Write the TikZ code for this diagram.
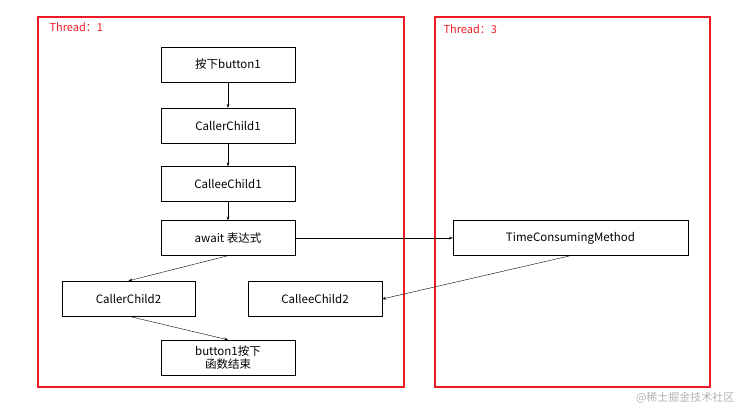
\documentclass[tikz,border=0pt]{standalone}
\usepackage{fontspec}
\setmainfont{Noto Sans CJK SC}
\usetikzlibrary{arrows.meta}
\definecolor{threadred}{RGB}{237,28,36}

\begin{document}
\begin{tikzpicture}
	[x=1pt,y=-1pt,
	 box/.style={draw, thin, minimum width=134pt, minimum height=35pt, inner sep=1pt, font=\fontsize{11.5}{13}\selectfont, align=center},
	 frame/.style={draw=threadred, line width=1.6pt},
	 link/.style={-{Stealth[scale=0.8]}, thin}];
	\useasboundingbox (0,0) rectangle (743,412);

	%Threads
	\draw[frame] (38,17) rectangle (404,387);
	\draw[frame] (435,17) rectangle (710,387);
	\node[anchor=west, text=threadred, font=\fontsize{11}{12}\selectfont] (t1) at (46,27) {Thread：1};
	\node[anchor=west, text=threadred, font=\fontsize{11}{12}\selectfont] (t3) at (440,29) {Thread：3};

	%Thread 1
	\node[box] (press) at (228,64.5) {按下button1};
	\node[box] (caller1) at (228,125.5) {CallerChild1};
	\node[box] (callee1) at (228,184) {CalleeChild1};
	\node[box] (await) at (228,238) {await 表达式};
	\node[box, minimum width=133pt] (caller2) at (128.5,298.5) {CallerChild2};
	\node[box] (callee2) at (315,299) {CalleeChild2};
	\node[box] (done) at (228,357.5) {button1按下\\函数结束};

	%Thread 3
	\node[box, minimum width=235pt] (work) at (570.5,238) {TimeConsumingMethod};

	\draw[link] (press) -- (caller1);
	\draw[link] (caller1) -- (callee1);
	\draw[link] (callee1) -- (await);
	\draw[link] (await) -- (work);
	\draw[link] (await.south) -- (caller2.north);
	\draw[link] (work.south) -- (callee2.east);
	\draw[link] (caller2.south) -- (done.north);

	\node[anchor=east, text=gray!60, font=\fontsize{11}{12}\selectfont] (mark) at (738,398) {@稀土掘金技术社区};
\end{tikzpicture}
\end{document}
